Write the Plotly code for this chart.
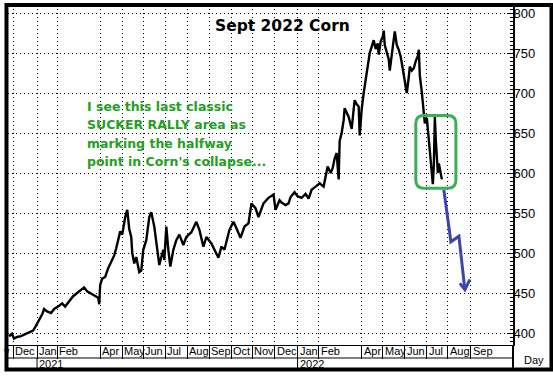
import pandas as pd
import plotly.graph_objects as go

# ---------------- data ----------------
dates = [
    "2020-11-25", "2020-11-30", "2020-12-02", "2020-12-07", "2020-12-11", "2020-12-17",
    "2020-12-23", "2020-12-29", "2020-12-31", "2021-01-06", "2021-01-11", "2021-01-13",
    "2021-01-18", "2021-01-22", "2021-01-27", "2021-02-02", "2021-02-08", "2021-02-11",
    "2021-02-17", "2021-02-23", "2021-03-01", "2021-03-05", "2021-03-10", "2021-03-15",
    "2021-03-19", "2021-03-25", "2021-03-30", "2021-03-31", "2021-04-01", "2021-04-05",
    "2021-04-08", "2021-04-13", "2021-04-16", "2021-04-21", "2021-04-23", "2021-04-27",
    "2021-04-29", "2021-05-03", "2021-05-06", "2021-05-10", "2021-05-12", "2021-05-14",
    "2021-05-17", "2021-05-19", "2021-05-21", "2021-05-26", "2021-05-28", "2021-06-01",
    "2021-06-04", "2021-06-09", "2021-06-11", "2021-06-16", "2021-06-21", "2021-06-23",
    "2021-06-25", "2021-06-29", "2021-06-30", "2021-07-02", "2021-07-06", "2021-07-08",
    "2021-07-13", "2021-07-16", "2021-07-21", "2021-07-27", "2021-07-30", "2021-08-06",
    "2021-08-13", "2021-08-18", "2021-08-24", "2021-08-27", "2021-09-03", "2021-09-10",
    "2021-09-14", "2021-09-17", "2021-09-22", "2021-09-29", "2021-10-05", "2021-10-08",
    "2021-10-14", "2021-10-20", "2021-10-26", "2021-10-29", "2021-11-04", "2021-11-09",
    "2021-11-16", "2021-11-23", "2021-11-30", "2021-12-02", "2021-12-08", "2021-12-10",
    "2021-12-16", "2021-12-21", "2021-12-23", "2021-12-29", "2022-01-03", "2022-01-07",
    "2022-01-13", "2022-01-18", "2022-01-21", "2022-01-27", "2022-02-02", "2022-02-08",
    "2022-02-10", "2022-02-14", "2022-02-17", "2022-02-21", "2022-02-23", "2022-02-25",
    "2022-03-01", "2022-03-02", "2022-03-04", "2022-03-08", "2022-03-09", "2022-03-11",
    "2022-03-15", "2022-03-17", "2022-03-18", "2022-03-22", "2022-03-23", "2022-03-25",
    "2022-03-29", "2022-03-30", "2022-04-01", "2022-04-05", "2022-04-07", "2022-04-08",
    "2022-04-12", "2022-04-13", "2022-04-15", "2022-04-19", "2022-04-21", "2022-04-25",
    "2022-04-26", "2022-04-28", "2022-05-02", "2022-05-03", "2022-05-04", "2022-05-06",
    "2022-05-10", "2022-05-11", "2022-05-13", "2022-05-17", "2022-05-18", "2022-05-20",
    "2022-05-24", "2022-05-26", "2022-05-30", "2022-06-01", "2022-06-03", "2022-06-07",
    "2022-06-08", "2022-06-10", "2022-06-14", "2022-06-16", "2022-06-20", "2022-06-21",
    "2022-06-22", "2022-06-24", "2022-06-28", "2022-06-29", "2022-07-01", "2022-07-05",
    "2022-07-07", "2022-07-08", "2022-07-11", "2022-07-12", "2022-07-13", "2022-07-14",
    "2022-07-15", "2022-07-18", "2022-07-19", "2022-07-20", "2022-07-21", "2022-07-22",
]
prices = [
    396, 399, 393, 395, 396, 398,
    400, 403, 407, 416, 423, 430,
    427, 425, 430, 433, 437, 433,
    440, 446, 450, 454, 457, 452,
    449, 446, 444, 436, 460, 468,
    470, 481, 488, 497, 506, 518,
    527, 523, 545, 554, 530, 520,
    500, 487, 495, 476, 478, 504,
    516, 545, 551, 533, 504, 485,
    495, 504, 491, 533, 504, 483,
    504, 516, 523, 510, 520, 526,
    539, 529, 508, 520, 512, 500,
    494, 508, 504, 529, 539, 531,
    519, 533, 537, 562, 556, 545,
    562, 569, 573, 554, 566, 563,
    560, 562, 570, 576, 571, 569,
    574, 568, 579, 583, 587, 583,
    596, 608, 600, 606, 618, 625,
    592, 640, 650, 666, 681, 675,
    670, 660, 655, 680, 691, 686,
    683, 647, 680, 700, 715, 725,
    740, 750, 758, 766, 755, 762,
    748, 765, 770, 778, 760, 752,
    742, 728, 748, 768, 777, 760,
    754, 745, 730, 716, 700, 720,
    733, 728, 731, 740, 746, 754,
    722, 701, 675, 662, 669, 640,
    615, 600, 586, 610, 670, 640,
    620, 600, 612, 605, 596, 592,
]

month_starts = [
    "2020-12-01", "2021-01-04", "2021-02-01", "2021-04-01", "2021-05-03", "2021-06-01",
    "2021-07-01", "2021-08-02", "2021-09-01", "2021-10-01", "2021-11-01", "2021-12-01",
    "2022-01-03", "2022-02-01", "2022-04-01", "2022-05-02", "2022-06-01", "2022-07-01",
    "2022-08-01", "2022-09-01",
]
month_labels = [
    "Dec", "Jan", "Feb", "Apr", "May", "Jun", "Jul", "Aug", "Sep", "Oct", "Nov", "Dec",
    "Jan", "Feb", "Apr", "May", "Jun", "Jul", "Aug", "Sep",
]
year_starts = ["2021-01-04", "2022-01-03"]
year_labels = ["2021", "2022"]

y_ticks = [400, 450, 500, 550, 600, 650, 700, 750, 800]

# highlighted "sucker rally" zone
box_dates = ["2022-06-16", "2022-08-11"]
box_prices = [581, 672]

# projected path (blue arrow)
arrow_dates = ["2022-07-26", "2022-08-04", "2022-08-16", "2022-08-24", None,
               "2022-08-17", "2022-08-24", "2022-08-31"]
arrow_prices = [579, 514, 521, 454, None, 462, 454, 467]

title_text = "Sept 2022 Corn"
note_lines = ["I see this last classic", "SUCKER RALLY area as",
              "marking the halfway", "point in Corn's collapse..."]

# ---------------- figure ----------------
FONT = "Arial, Liberation Sans, sans-serif"
BOLD = "DejaVu Sans, Verdana, sans-serif"
GREEN_TXT = "#23a023"
GREEN_BOX = "#3caf55"
BLUE = "#3b44b0"

fig = go.Figure()
fig.add_trace(go.Scatter(x=dates, y=prices, mode="lines",
                         line=dict(color="black", width=2.4),
                         hoverinfo="skip", showlegend=False))
fig.add_trace(go.Scatter(x=arrow_dates, y=arrow_prices, mode="lines",
                         line=dict(color=BLUE, width=3),
                         connectgaps=False, hoverinfo="skip", showlegend=False))

# rounded rectangle path in data coordinates
bx0, bx1 = box_dates
by0, by1 = box_prices
rx = pd.tseries.offsets.BDay(8)
bxi0 = (pd.Timestamp(bx0) + rx).strftime("%Y-%m-%d")
bxi1 = (pd.Timestamp(bx1) - rx).strftime("%Y-%m-%d")
ry = 10
path = (f"M{bxi0},{by1} L{bxi1},{by1} Q{bx1},{by1} {bx1},{by1 - ry} "
        f"L{bx1},{by0 + ry} Q{bx1},{by0} {bxi1},{by0} L{bxi0},{by0} "
        f"Q{bx0},{by0} {bx0},{by0 + ry} L{bx0},{by1 - ry} Q{bx0},{by1} {bxi0},{by1} Z")

shapes = [
    dict(type="path", path=path, xref="x", yref="y",
         line=dict(color=GREEN_BOX, width=3), layer="above"),
    dict(type="line", xref="paper", yref="paper", x0=0, x1=1, y0=-0.0382, y1=-0.0382,
         line=dict(color="black", width=1)),
    dict(type="line", xref="paper", yref="paper", x0=1, x1=1, y0=0, y1=-0.075,
         line=dict(color="black", width=2)),
    dict(type="rect", xref="paper", yref="paper", x0=-0.003, x1=1.0762, y0=-0.072, y1=1.0,
         line=dict(color="black", width=4), fillcolor="rgba(0,0,0,0)", layer="above"),
]
for ys in year_starts:
    shapes.append(dict(type="line", xref="x", yref="paper", x0=ys, x1=ys,
                       y0=-0.0382, y1=-0.072, line=dict(color="black", width=1)))

annotations = []
annotations.append(dict(x="2020-12-01", y=-0.0191, xref="x", yref="paper", text="v",
                        xanchor="right", yanchor="middle", xshift=-1, showarrow=False,
                        font=dict(family=FONT, size=11, color="black")))
for ms, ml in zip(month_starts, month_labels):
    annotations.append(dict(x=ms, y=-0.0191, xref="x", yref="paper", text=ml,
                            xanchor="left", yanchor="middle", xshift=0, showarrow=False,
                            font=dict(family=FONT, size=11, color="black")))
for ys, yl in zip(year_starts, year_labels):
    annotations.append(dict(x=ys, y=-0.0559, xref="x", yref="paper", text=yl,
                            xanchor="left", yanchor="middle", xshift=0, showarrow=False,
                            font=dict(family=FONT, size=11, color="black")))
annotations.append(dict(x=1.0416, y=-0.044, xref="paper", yref="paper", text="Day",
                        xanchor="center", yanchor="middle", showarrow=False,
                        font=dict(family=FONT, size=11, color="black")))
annotations.append(dict(x=0.5436, y=0.938, xref="paper", yref="paper",
                        text=f"<b>{title_text}</b>", xanchor="center", yanchor="middle",
                        showarrow=False, font=dict(family=BOLD, size=15.5, color="black")))
for i, line in enumerate(note_lines):
    annotations.append(dict(x=0.1525, y=0.7015 - i * 0.054, xref="paper", yref="paper",
                            text=f"<b>{line}</b>", xanchor="left", yanchor="middle",
                            showarrow=False,
                            font=dict(family=BOLD, size=12.5, color=GREEN_TXT)))

fig.update_layout(
    width=553, height=378,
    margin=dict(l=8, r=40, t=5, b=33),
    paper_bgcolor="white", plot_bgcolor="white",
    showlegend=False,
    shapes=shapes, annotations=annotations,
    xaxis=dict(
        type="date", range=["2020-11-24", "2022-10-31"],
        rangebreaks=[dict(bounds=["sat", "mon"])],
        tickmode="array", tickvals=month_starts, showticklabels=False,
        ticks="outside", ticklen=13, tickcolor="black", tickwidth=1,
        showgrid=True, gridcolor="black", griddash="1px,3px", gridwidth=1,
        showline=True, linecolor="black", linewidth=1, zeroline=False,
        fixedrange=True,
    ),
    yaxis=dict(
        side="right", range=[385, 810],
        tickmode="array", tickvals=y_ticks,
        ticks="inside", ticklen=6, tickcolor="black", tickwidth=1,
        minor=dict(dtick=5, tick0=0, ticks="inside", ticklen=3,
                   tickcolor="black", showgrid=False),
        showgrid=True, gridcolor="black", griddash="1px,3px", gridwidth=1,
        showline=True, linecolor="black", linewidth=2, zeroline=False,
        tickfont=dict(family=FONT, size=13, color="black"),
        ticklabelstandoff=-4,
        fixedrange=True,
    ),
)

fig.write_html("out.html", config={"displayModeBar": False},
               post_script="document.body.style.margin='0';document.body.style.overflow='hidden';")
